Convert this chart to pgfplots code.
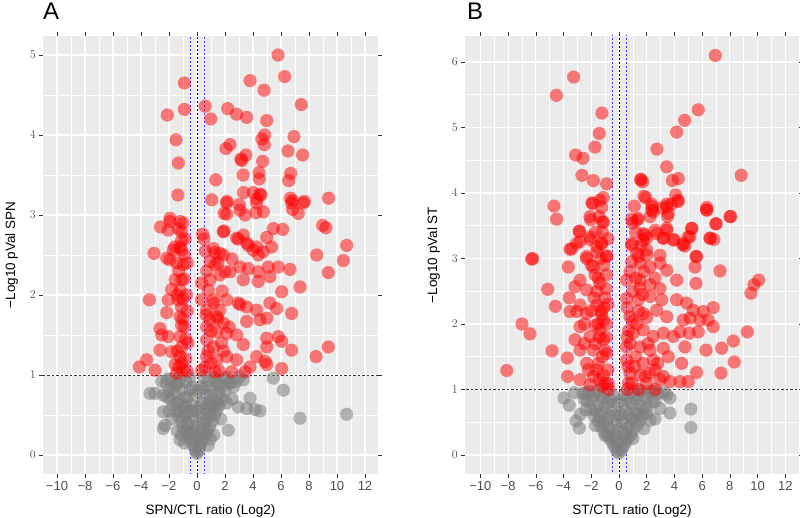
\documentclass[border=0pt]{standalone}
\usepackage{fontspec}
\setmainfont{Liberation Sans}
\usepackage{pgfplots}
\pgfplotsset{compat=1.18}
\definecolor{panelbg}{HTML}{EBEBEB}
\definecolor{tickgray}{HTML}{4D4D4D}
\definecolor{tickline}{HTML}{333333}
\definecolor{ptgray}{HTML}{7F7F7F}
\definecolor{vblue}{HTML}{3A3AFF}
\tikzset{ptitle/.style={anchor=base west, inner sep=0pt, font=\fontsize{24}{24}\selectfont}}
\pgfplotsset{
 volc/.style={
  scale only axis, anchor=south west,
  axis background/.style={fill=panelbg},
  axis line style={draw=none},
  grid=both,
  major grid style={white, line width=1.1pt},
  minor grid style={white, line width=0.55pt},
  minor x tick num=1, minor y tick num=1,
  tick align=outside,
  major tick length=3.7pt, minor tick length=0pt,
  tick style={tickline, line width=0.6pt},
  xtick={-10,-8,...,12},
  xticklabels={−10,−8,−6,−4,−2,0,2,4,6,8,10,12},
  ticklabel style={font=\fontsize{13}{13}\selectfont, text=tickgray},
  label style={font=\fontsize{13.5}{14}\selectfont, text=black},
  xlabel style={yshift=-7pt},
  ylabel style={yshift=5pt},
 },
 redpt/.style={only marks, mark=*, mark size=6.6pt, draw=none, mark options={draw opacity=0, fill=red, fill opacity=0.5}},
 graypt/.style={only marks, mark=*, mark size=6.6pt, draw=none, mark options={draw opacity=0, fill=ptgray, fill opacity=0.55}},
 hline/.style={tickline, line width=0.75pt, dash pattern=on 2.5pt off 2pt},
 vline/.style={black, line width=0.8pt, dash pattern=on 2pt off 2pt},
 bline/.style={vblue, line width=0.8pt, dash pattern=on 2pt off 2pt},
}
\begin{document}
\begin{tikzpicture}
\useasboundingbox (0,0) rectangle (800pt,518pt);
\begin{axis}[volc, name=pa, at={(43pt,44pt)}, width=335pt, height=438pt,
  xmin=-11, xmax=12.93, ymin=-0.2375, ymax=5.2375, ytick={0,1,2,3,4,5},
  xlabel={SPN/CTL ratio (Log2)}, ylabel={−Log10 pVal SPN}]
\addplot[graypt] coordinates {
(10.69,0.51)(7.36,0.46)(6.17,0.81)(5.45,0.96)(3.79,0.71)(3.55,0.58)(4.5,0.55)(4.14,0.57)(2.95,0.6)(-3.36,0.77)(-3.0,0.77)(-2.4,0.54)(-2.4,0.33)(-2.29,0.37)(-2.52,0.92)(-2.16,0.73)(-1.21,0.19)(2.24,0.31)(2.12,0.65)(2.36,0.9)(3.31,0.94)(3.07,0.98)
(0,0.02)(-0.1,0.05)(0.1,0.05)(-0.2,0.1)(0.2,0.1)(-0.35,0.15)(0.3,0.15)(-0.5,0.2)(0.45,0.2)(-0.6,0.25)(0.6,0.25)(-0.8,0.3)(0.75,0.3)(-0.3,0.3)(0.3,0.32)(-1.0,0.35)(0.9,0.35)(-0.6,0.38)(0.5,0.4)(-1.1,0.42)(1.1,0.42)(-0.2,0.45)(0.2,0.47)(-1.3,0.48)(1.25,0.5)(-0.8,0.5)(0.8,0.52)(-1.5,0.55)(1.4,0.56)(-1.0,0.6)(1.0,0.6)(-1.7,0.62)(1.6,0.62)(-0.4,0.62)(0.4,0.65)(-1.3,0.68)(1.3,0.68)(-1.9,0.7)(1.8,0.7)(-0.7,0.72)(0.7,0.74)(-1.6,0.78)(1.6,0.78)(-2.0,0.8)(2.0,0.8)(-1.1,0.82)(1.1,0.82)(-0.3,0.85)(0.3,0.85)(-1.5,0.88)(1.5,0.88)(-2.2,0.9)(2.3,0.9)(-0.8,0.92)(0.8,0.93)(-1.8,0.95)(1.9,0.95)(-1.2,0.97)(1.2,0.97)(-0.5,0.97)(0.5,0.97)(2.6,0.85)(-2.4,0.75)(2.5,0.7)(-2.0,0.55)(-1.8,0.45)(1.7,0.45)(-1.4,0.3)(1.2,0.25)(-0.9,0.15)(0.8,0.12)
(-0.15,0.2)(0.15,0.22)(-0.4,0.28)(0.5,0.3)(-0.7,0.4)(0.7,0.45)(-0.9,0.5)(1.0,0.5)(-1.2,0.55)(1.2,0.6)(-1.4,0.65)(1.5,0.65)(-0.3,0.55)(0.2,0.6)(-0.6,0.55)(0.6,0.58)(-1.7,0.85)(1.7,0.85)(-2.1,0.95)(2.1,0.97)(-0.9,0.72)(1.0,0.75)(-0.1,0.75)(0.1,0.8)(-0.5,0.82)(0.6,0.85)(-1.3,0.9)(1.4,0.92)(2.8,0.92)(-0.8,0.62)(0.9,0.66)(-1.1,0.25)(0.95,0.2)(-0.05,0.35)(0.05,0.55)
};
\addplot[redpt] coordinates {
(5.79,5.0)(6.26,4.73)(3.79,4.68)(4.79,4.56)(-0.9,4.65)(7.45,4.38)(0.59,4.36)(-0.9,4.32)(-2.12,4.25)(2.19,4.33)(0.98,4.2)(2.83,4.26)(3.55,4.22)(4.98,4.18)(4.83,4.0)(4.64,3.95)(4.81,3.88)(6.93,3.98)(-1.5,3.94)(2.36,3.88)(2.07,3.83)(6.5,3.8)(7.55,3.75)(3.5,3.75)(3.14,3.7)(3.2,3.68)(-1.33,3.65)(4.69,3.67)(4.43,3.53)(6.69,3.52)(3.29,3.5)(4.45,3.45)(6.55,3.43)(1.34,3.44)(-1.36,3.25)(3.33,3.28)(4.02,3.28)(4.5,3.26)(4.57,3.25)(4.26,3.2)(6.67,3.21)(6.83,3.18)(9.4,3.21)(7.67,3.17)(1.05,3.19)(2.14,3.17)(3.02,3.13)
(1.93,3.02)(3.07,3.06)(3.43,3.0)(4.21,3.03)(4.74,3.04)(6.83,3.07)(7.24,3.02)(8.98,2.87)(9.21,2.84)(10.69,2.62)(5.45,2.83)(6.12,2.82)(1.93,2.8)(0.4,2.76)(0.5,2.7)(2.95,2.7)(3.31,2.75)(3.67,2.62)(4.26,2.6)(4.98,2.72)(5.33,2.6)(8.55,2.5)(1.17,2.58)(1.64,2.52)
(-2.6,2.85)(-1.93,2.92)(-2.05,2.81)(-1.21,2.92)(-1.33,2.83)(-1.1,2.68)(-1.21,2.6)(-1.69,2.56)(-3.07,2.52)(-2.16,2.46)
(2.12,3.15)(4.26,3.15)(6.76,3.15)(7.6,3.15)(2.12,3.01)(-1.93,2.96)(-1.1,2.79)(1.88,2.79)(2.83,2.71)(-0.98,2.38)(-1.45,2.4)(-1.93,2.44)(-1.1,2.56)
(1.29,2.53)(1.88,2.5)(3.55,2.65)(4.02,2.56)(4.38,2.5)(4.74,2.54)(10.45,2.43)
(0.93,2.42)(1.29,2.38)(2.0,2.29)(2.36,2.29)(3.07,2.35)(3.67,2.33)(4.38,2.29)(5.1,2.35)(5.81,2.35)(6.64,2.32)(9.38,2.28)(5.21,2.23)(4.38,2.17)(3.31,2.19)(1.64,2.25)
(-1.57,2.19)(-1.1,2.19)(-1.81,2.07)(-1.21,2.06)(-3.4,1.94)(-2.05,1.94)(-1.33,1.94)(-1.1,1.85)(-2.16,1.78)(-1.21,1.73)(-1.1,1.62)(-2.64,1.58)(-2.52,1.5)(-2.05,1.48)(-1.21,1.48)(-2.64,1.31)(-1.81,1.29)(-1.1,1.35)(-1.21,1.23)(-3.6,1.19)(-4.12,1.1)(-3.0,1.06)(-1.57,1.13)(-0.98,1.06)(-1.45,1.02)
(0.33,2.15)(0.93,2.19)(0.81,2.06)(0.33,1.94)(1.17,1.94)(0.69,1.81)(1.64,1.81)(2.12,1.94)(3.07,1.88)(3.55,1.85)(2.95,1.9)(4.26,1.81)(4.98,1.71)(4.5,1.69)(3.55,1.67)(5.21,1.9)(5.69,1.83)(6.76,1.77)(6.05,2.04)(7.36,2.1)
(0.93,1.69)(1.41,1.73)(1.88,1.65)(0.69,1.6)(1.41,1.54)(2.12,1.52)(2.83,1.5)(3.31,1.38)(1.76,1.4)(1.17,1.35)(0.69,1.44)(4.98,1.46)(5.81,1.48)(6.05,1.42)(6.76,1.31)(9.38,1.35)(8.5,1.23)(4.98,1.35)(4.26,1.23)(4.86,1.17)(4.98,1.13)(6.05,1.08)(3.79,1.1)(2.83,1.19)(2.12,1.23)(1.41,1.19)(0.69,1.23)(2.48,1.04)(1.29,1.04)(0.33,1.06)(3.43,1.04)
(-0.7,1.05)(-0.8,1.2)(-0.65,1.4)(-0.9,1.6)(-0.7,1.8)(-0.75,2.0)(-0.9,2.2)(-0.7,2.4)(-0.85,2.7)(-1.3,1.1)(-1.4,1.3)(-1.0,1.7)(-1.4,2.0)(-1.3,2.3)(-1.6,2.6)(-1.0,2.9)(-0.8,1.45)(-1.0,1.95)(-0.9,2.5)(-1.1,1.15)
(0.6,1.1)(0.8,1.3)(1.0,1.55)(0.65,1.75)(1.2,1.9)(0.7,2.3)(1.5,2.4)(0.6,2.55)(1.0,1.15)(1.6,1.05)(1.9,1.3)(1.5,1.7)(2.3,1.6)(1.8,2.05)(2.5,2.45)
};
\addplot[hline] coordinates {(-12,1) (14,1)};
\addplot[vline] coordinates {(0,-1) (0,7)};
\addplot[bline] coordinates {(-0.5,-1) (-0.5,7)};
\addplot[bline] coordinates {(0.5,-1) (0.5,7)};
\end{axis}
\node[ptitle] at ([yshift=16pt]pa.north west) {A};
\begin{axis}[volc, name=pb, at={(465pt,44pt)}, width=334pt, height=438pt,
  xmin=-11.11, xmax=12.99, ymin=-0.29, ymax=6.397, ytick={0,1,2,3,4,5,6},
  xlabel={ST/CTL ratio (Log2)}, ylabel={−Log10 pVal ST}]
\addplot[graypt] coordinates {
(-3.97,0.87)(-3.59,0.76)(-2.38,0.69)(-3.1,0.52)(-2.86,0.41)(5.19,0.7)(5.19,0.42)(3.68,0.64)(3.68,0.87)(3.44,0.92)(2.6,0.81)(2.24,0.53)(2.96,0.71)(2.0,0.64)
(0,0.03)(-0.15,0.06)(0.15,0.07)(-0.3,0.12)(0.3,0.12)(-0.45,0.18)(0.45,0.18)(-0.65,0.24)(0.6,0.24)(-0.85,0.3)(0.85,0.3)(-0.3,0.3)(0.3,0.33)(-1.1,0.36)(1.0,0.37)(-0.6,0.4)(0.6,0.42)(-1.3,0.44)(1.3,0.45)(-0.2,0.48)(0.2,0.5)(-1.5,0.52)(1.5,0.52)(-0.9,0.55)(0.9,0.56)(-1.8,0.6)(1.7,0.6)(-1.2,0.64)(1.2,0.64)(-0.5,0.68)(0.5,0.68)(-2.0,0.7)(2.0,0.72)(-1.5,0.75)(1.5,0.76)(-0.8,0.8)(0.8,0.8)(-2.3,0.82)(2.4,0.82)(-1.2,0.85)(1.2,0.86)(-1.8,0.9)(1.8,0.9)(-0.4,0.9)(0.4,0.92)(-2.6,0.94)(2.8,0.94)(-1.0,0.96)(1.0,0.97)(-2.2,0.97)(2.2,0.97)(-1.6,0.98)(1.6,0.98)(-2.8,0.62)(-2.5,0.85)(2.6,0.55)(1.8,0.4)(-1.7,0.45)
(-0.15,0.2)(0.15,0.22)(-0.5,0.28)(0.5,0.3)(-0.8,0.42)(0.8,0.45)(-1.1,0.5)(1.1,0.52)(-1.4,0.6)(1.4,0.62)(-1.7,0.68)(1.7,0.7)(-0.3,0.6)(0.2,0.62)(-0.7,0.6)(0.7,0.62)(-2.0,0.85)(2.0,0.86)(-2.4,0.95)(2.5,0.97)(-1.0,0.75)(1.0,0.78)(-0.1,0.78)(0.1,0.82)(-0.6,0.85)(0.6,0.88)(-1.4,0.92)(1.4,0.93)(-3.2,0.95)(3.2,0.96)(-1.0,0.3)(1.0,0.25)(-0.05,0.38)(0.05,0.6)
};
\addplot[redpt] coordinates {
(6.95,6.1)(-3.27,5.77)(-4.52,5.49)(-1.23,5.22)(5.72,5.27)(4.74,5.11)(4.16,4.93)(-1.42,4.91)(-1.73,4.7)(2.74,4.67)(-3.13,4.58)(-2.6,4.53)(3.44,4.4)(8.82,4.27)(-2.67,4.27)(-1.85,4.19)(-0.89,4.14)(1.59,4.21)(1.71,4.17)(3.85,4.19)(4.28,4.22)(1.93,3.93)(4.09,3.97)(4.26,3.89)(-1.13,3.93)(-1.37,3.89)(-1.95,3.85)(-4.69,3.8)(2.36,3.83)(3.44,3.83)(6.33,3.78)
(-4.5,3.6)(-6.23,3.0)(-3.54,3.14)(-2.86,3.42)(-2.81,3.26)(-2.09,3.29)(-2.04,3.59)(-1.9,3.84)(-1.25,3.78)(-1.18,3.56)(-1.42,3.64)(-1.25,3.23)(-1.61,3.18)(-2.33,3.03)(-0.89,3.04)(0.92,3.2)(0.99,3.54)(1.32,3.59)(1.8,3.95)(1.57,4.2)(2.4,3.79)(2.47,3.71)(2.24,3.64)(2.72,3.38)(1.88,3.36)(1.75,3.28)(2.0,3.13)(3.2,3.31)(3.44,3.43)(3.51,3.64)(3.44,3.79)(3.8,3.83)(3.97,3.29)(4.6,3.21)(4.76,3.19)(5.0,3.33)(5.25,3.46)(5.56,3.03)(6.33,3.74)(6.57,3.31)(6.85,3.29)(7.0,3.53)(8.01,3.64)(1.39,3.03)
(-2.09,3.64)(-1.13,3.55)(-2.86,3.41)(-2.09,3.33)(-3.05,3.23)(-1.25,3.23)(-3.41,3.15)(-6.3,2.99)(-2.33,3.0)(-0.89,3.03)(-3.66,2.87)(-1.85,2.87)(-1.73,2.75)(-2.81,2.67)(-1.37,2.62)(-5.14,2.53)(-3.17,2.57)(-2.33,2.52)(-0.94,2.54)(-3.59,2.4)(-4.59,2.27)(-2.81,2.29)(-1.61,2.29)(-3.54,2.19)(-3.05,2.19)(-2.33,2.16)(-1.25,2.14)(-7.0,2.0)(-6.42,1.85)(-2.81,1.96)(-1.73,1.98)(-1.13,2.06)(-1.37,1.91)(-3.17,1.76)(-2.09,1.81)(-1.13,1.76)(-2.81,1.6)(-4.83,1.59)(-3.73,1.48)(-1.85,1.6)(-0.89,1.55)(-2.33,1.4)(-1.49,1.4)(-3.71,1.2)(-8.1,1.29)(-2.81,1.15)(-1.85,1.2)(-1.13,1.22)(-2.09,1.07)(-0.77,1.09)(-1.61,1.3)
(0.92,3.6)(1.39,3.61)(2.36,3.74)(3.08,3.77)(3.56,3.69)(4.28,3.87)(1.75,3.38)(2.0,3.31)(2.6,3.43)(3.44,3.46)(3.2,3.31)(3.92,3.28)(4.64,3.23)(5.25,3.46)(5.12,3.33)(6.57,3.31)(7.0,3.53)(8.06,3.64)(6.33,3.74)(0.92,3.23)(1.28,3.08)(2.0,3.05)(2.96,3.05)(0.92,2.95)(1.52,2.93)(2.24,2.87)(2.96,2.93)(3.44,2.82)(5.6,3.03)(5.48,2.87)(7.29,2.81)(0.55,2.67)(1.52,2.67)(2.24,2.6)(2.96,2.54)(4.16,2.67)(5.56,2.62)(10.08,2.67)(9.74,2.6)(9.52,2.47)(0.55,2.39)(1.39,2.37)(2.24,2.42)(3.08,2.37)(4.16,2.37)(4.88,2.32)(5.36,2.21)(6.08,2.19)(6.8,2.25)(0.79,2.11)(1.75,2.16)(2.72,2.21)(3.44,2.11)(4.64,2.06)(5.12,2.09)(5.84,2.06)(6.44,2.06)(6.8,1.96)(5.72,1.88)(5.08,1.86)(4.4,1.88)(9.26,1.88)(1.03,1.86)(1.75,1.91)(2.47,1.81)(3.2,1.86)(3.92,1.81)(0.55,1.65)(1.52,1.65)(2.24,1.6)(3.2,1.63)(4.76,1.65)(6.28,1.6)(7.41,1.63)(8.25,1.74)(0.55,1.45)(1.75,1.4)(2.47,1.45)(3.56,1.5)(4.52,1.4)(5.6,1.26)(7.36,1.25)(8.32,1.42)(0.79,1.25)(1.52,1.22)(2.24,1.25)(2.96,1.15)(3.68,1.12)(4.4,1.12)(5.0,1.12)(0.92,1.09)(2.0,1.09)
(-1.0,1.1)(-1.2,1.5)(-0.9,1.8)(-1.3,2.2)(-1.0,2.4)(-1.5,2.7)(-1.1,2.9)(-1.6,3.1)(-1.2,3.4)(-1.5,2.0)(-0.8,2.3)(-1.8,2.4)(-2.0,2.9)(-1.4,1.15)(-1.7,1.7)
(0.7,1.1)(1.1,1.35)(0.8,1.7)(1.3,2.0)(1.0,2.5)(1.8,2.8)(1.2,3.4)(0.7,1.9)(1.9,1.2)(2.6,1.3)(1.5,2.55)(2.0,2.1)(2.6,2.7)(1.1,3.8)
(-0.8,1.3)(-1.0,1.6)(-1.4,1.8)(-0.9,2.0)(-1.1,2.25)(-1.6,2.5)(-0.9,2.75)(-1.3,3.0)(-0.8,3.3)(-1.7,3.4)(-2.2,1.3)(-2.5,1.7)(-2.0,2.2)(-2.5,2.0)(-0.75,1.0)(-1.2,1.05)
(0.6,1.0)(0.65,1.35)(1.2,1.5)(0.6,1.8)(1.0,2.05)(1.4,2.2)(0.6,2.25)(1.2,2.7)(0.8,2.8)(1.7,2.45)(2.1,1.7)(1.4,1.0)(2.6,1.0)(1.6,3.2)(3.2,1.2)(2.8,1.4)
};
\addplot[hline] coordinates {(-12,1) (14,1)};
\addplot[vline] coordinates {(0,-1) (0,7)};
\addplot[bline] coordinates {(-0.5,-1) (-0.5,7)};
\addplot[bline] coordinates {(0.5,-1) (0.5,7)};
\end{axis}
\node[ptitle] at ([xshift=2pt, yshift=16pt]pb.north west) {B};
\end{tikzpicture}
\end{document}
